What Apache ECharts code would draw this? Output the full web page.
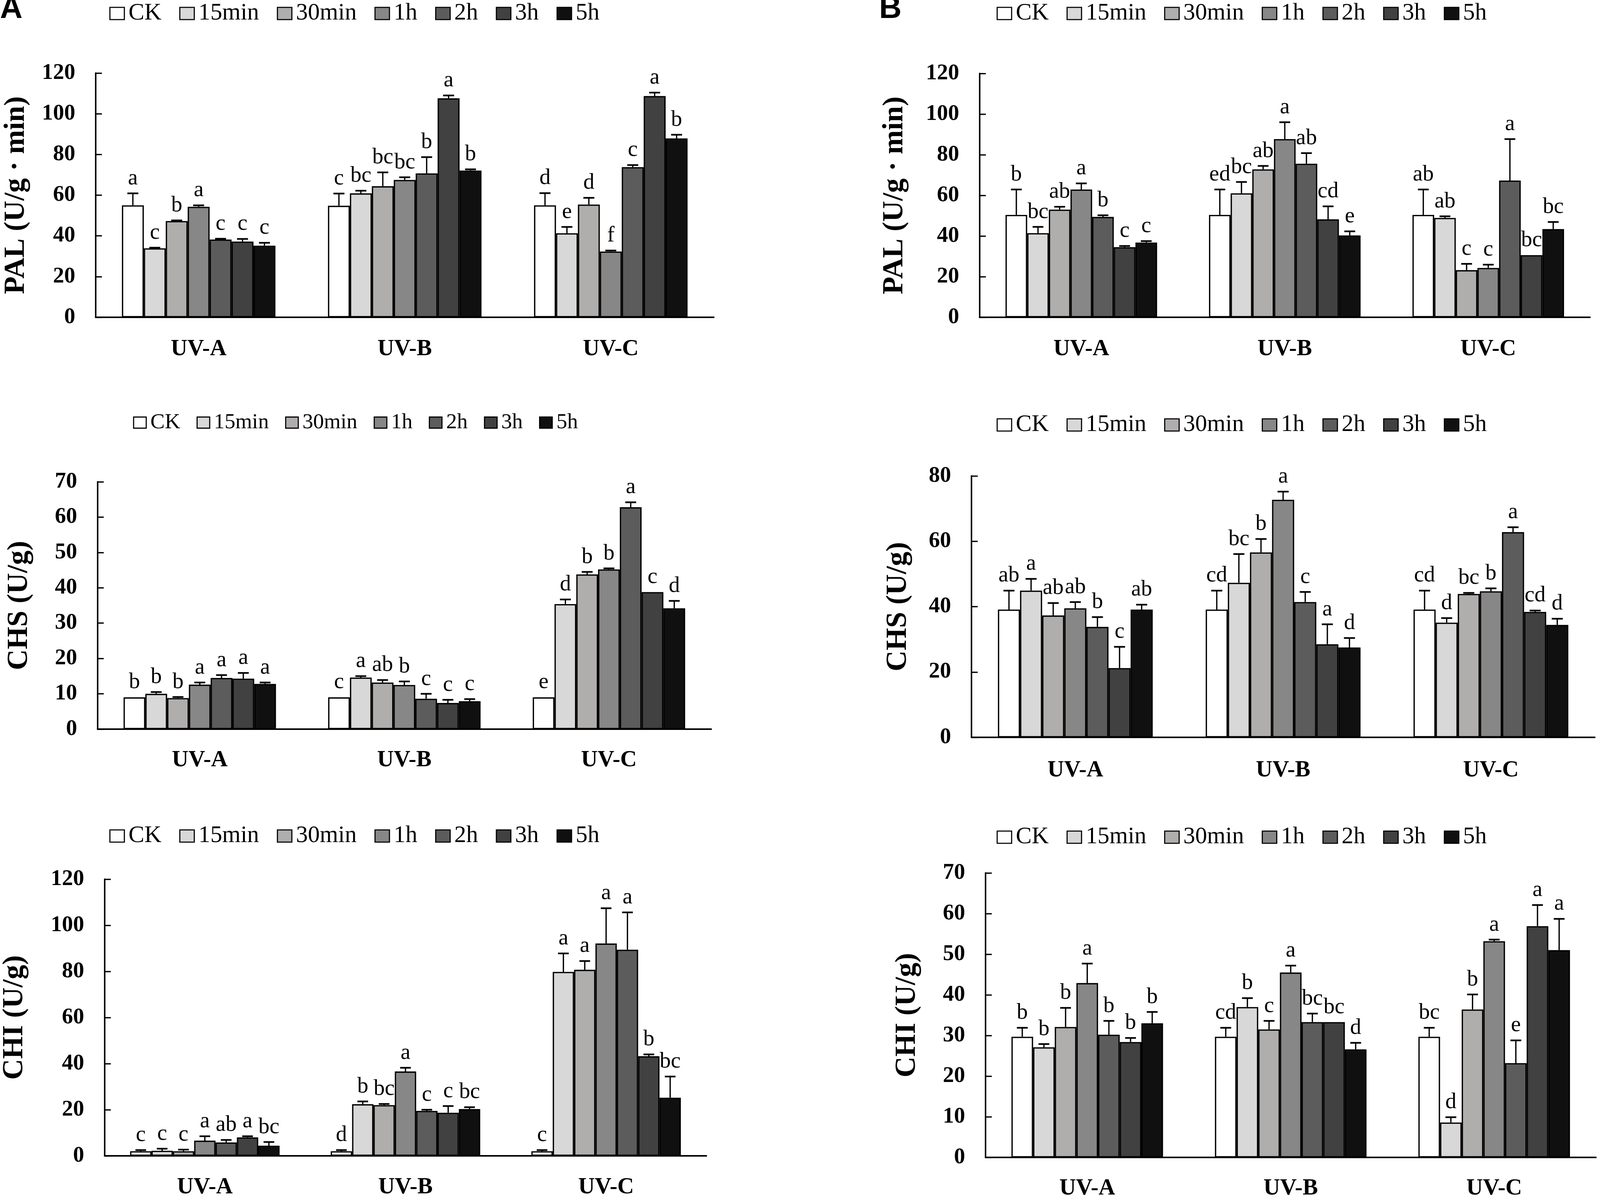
<!DOCTYPE html>
<html>
<head>
    <meta charset="utf-8" />
    <title>PAL, CHS and CHI after UV treatment</title>
    <script src="https://cdn.jsdelivr.net/npm/echarts@6/dist/echarts.min.js"></script>
    <style>
        html, body { margin: 0; padding: 0; background: #fff; overflow: hidden; }
        #main { width: 100vw; height: 100vh; }
    </style>
</head>
<body>
    <div id="main"></div>
    <script type="text/javascript">
        // categories and treatment times
        var uvTypes = ['UV-A', 'UV-B', 'UV-C'];
        var times = ['CK', '15min', '30min', '1h', '2h', '3h', '5h'];
        var greys = ['#ffffff', '#d8d8d8', '#b0adad', '#878787', '#5c5c5c', '#414141', '#101010'];

        // rows follow `times`, columns follow `uvTypes`
        // A - PAL
        var palA = [[55.0, 54.8, 55.0], [33.9, 60.9, 41.3], [47.3, 64.4, 55.4], [54.3, 67.5, 32.3],
                    [38.2, 70.7, 73.8], [37.2, 107.6, 108.7], [35.2, 72.1, 87.9]];
        var palAErr = [[5.9, 6.0, 6.0], [0.3, 1.3, 3.1], [0.3, 6.8, 3.3], [0.7, 1.3, 0.5],
                       [0.4, 8.0, 1.0], [1.3, 1.4, 1.7], [1.4, 0.6, 1.8]];
        var palALetters = [['a', 'c', 'd'], ['c', 'bc', 'e'], ['b', 'bc', 'd'], ['a', 'bc', 'f'],
                           ['c', 'b', 'c'], ['c', 'a', 'a'], ['c', 'b', 'b']];
        // B - PAL
        var palB = [[50.4, 50.4, 50.4], [41.4, 61.0, 48.9], [53.0, 72.8, 23.2], [62.9, 87.7, 24.3],
                    [49.4, 75.6, 67.3], [34.5, 48.2, 30.6], [36.8, 40.3, 43.4]];
        var palBErr = [[12.5, 12.5, 12.5], [3.1, 5.6, 0.8], [1.4, 1.7, 3.1], [3.0, 8.3, 1.6],
                       [0.8, 5.2, 20.4], [0.6, 6.4, 0], [0.7, 2.0, 3.5]];
        var palBLetters = [['b', 'ed', 'ab'], ['bc', 'bc', 'ab'], ['ab', 'ab', 'c'], ['a', 'a', 'c'],
                           ['b', 'ab', 'a'], ['c', 'cd', 'bc'], ['c', 'e', 'bc']];
        // A - CHS
        var chsA = [[9.0, 9.0, 9.0], [10.0, 14.6, 35.4], [8.8, 13.2, 43.8], [12.6, 12.5, 45.2],
                    [14.5, 8.6, 62.8], [14.3, 7.4, 38.8], [12.8, 7.9, 34.2]];
        var chsAErr = [[0.1, 0.1, 0.1], [0.5, 0.4, 1.3], [0.3, 0.7, 0.7], [0.6, 1.0, 0.3],
                       [0.8, 1.4, 1.4], [1.6, 0.9, 0], [0.4, 0.6, 2.1]];
        var chsALetters = [['b', 'c', 'e'], ['b', 'a', 'd'], ['b', 'ab', 'b'], ['a', 'b', 'b'],
                           ['a', 'c', 'a'], ['a', 'c', 'c'], ['a', 'c', 'd']];
        // B - CHS
        var chsB = [[39.1, 39.1, 39.1], [44.9, 47.3, 35.1], [37.3, 56.6, 43.9], [39.5, 72.7, 44.7],
                    [33.8, 41.4, 62.8], [21.2, 28.5, 38.4], [39.1, 27.5, 34.4]];
        var chsBErr = [[5.8, 5.8, 5.8], [3.6, 8.8, 1.4], [3.8, 4.1, 0.3], [1.9, 2.5, 0.9],
                       [3.0, 3.1, 1.5], [6.5, 6.1, 0.4], [1.5, 2.9, 1.9]];
        var chsBLetters = [['ab', 'cd', 'cd'], ['a', 'bc', 'd'], ['ab', 'b', 'bc'], ['ab', 'a', 'b'],
                           ['b', 'c', 'a'], ['c', 'a', 'cd'], ['ab', 'd', 'd']];
        // A - CHI
        var chiA = [[2.0, 2.0, 2.0], [2.2, 22.4, 79.8], [2.0, 22.0, 80.7], [6.6, 36.6, 92.1],
                    [5.8, 19.5, 89.4], [8.0, 18.7, 43.2], [4.4, 20.3, 25.2]];
        var chiAErr = [[0.5, 0.5, 0.5], [0.9, 1.2, 8.0], [0.7, 0.5, 3.8], [1.9, 1.6, 15.3],
                       [1.1, 0.5, 16.2], [0.5, 2.9, 0.8], [1.6, 0.8, 9.2]];
        var chiALetters = [['c', 'd', 'c'], ['c', 'b', 'a'], ['c', 'bc', 'a'], ['a', 'a', 'a'],
                           ['ab', 'c', 'a'], ['a', 'c', 'b'], ['bc', 'bc', 'bc']];
        // B - CHI
        var chiB = [[29.7, 29.7, 29.7], [27.1, 37.0, 8.6], [32.1, 31.5, 36.4], [42.9, 45.5, 53.2],
                    [30.2, 33.3, 23.2], [28.4, 33.3, 56.9], [33.0, 26.6, 51.0]];
        var chiBErr = [[2.2, 2.2, 2.2], [0.8, 2.2, 1.3], [4.7, 2.1, 3.7], [4.8, 1.7, 0.4],
                       [3.4, 2.1, 5.6], [1.0, 0, 5.2], [2.8, 1.6, 7.7]];
        var chiBLetters = [['b', 'cd', 'bc'], ['b', 'b', 'd'], ['b', 'c', 'b'], ['a', 'a', 'a'],
                           ['b', 'bc', 'e'], ['b', 'bc', 'a'], ['b', 'd', 'a']];

        var SERIF = '"Liberation Serif", "Times New Roman", serif';
        var GAP = 0.255;   // barCategoryGap as a fraction

        // layout is written for a 4317 x 3071 page, scaled to the real viewport
        var sx = window.innerWidth / 4317, sy = window.innerHeight / 3071, sz = Math.min(sx, sy);
        function X(v) { return v * sx; }
        function Y(v) { return v * sy; }
        function S(v) { return v * sz; }

        // panel layout: axis left / right / top / zero line; legend [left, top, font, w, h, gap]
        var panels = [
            { mean: palA, err: palAErr, letters: palALetters, name: 'PAL (U/g · min)', max: 120, step: 20,
              box: [258, 1926, 187, 812], legend: [295, 4, 64, 39, 33, 48], nameGap: 175, labelMargin: 52 },
            { mean: palB, err: palBErr, letters: palBLetters, name: 'PAL (U/g · min)', max: 120, step: 20,
              box: [2643, 4290, 188, 812], legend: [2689, 4, 64, 39, 33, 48], nameGap: 190, labelMargin: 52 },
            { mean: chsA, err: chsAErr, letters: chsALetters, name: 'CHS (U/g)', max: 70, step: 10,
              box: [263, 1919, 1233, 1866], legend: [359, 1054, 58, 34, 30, 44], nameGap: 171, labelMargin: 50 },
            { mean: chsB, err: chsBErr, letters: chsBLetters, name: 'CHS (U/g)', max: 80, step: 20,
              box: [2621, 4303, 1218, 1887], legend: [2689, 1057, 64, 39, 33, 48], nameGap: 158, labelMargin: 55 },
            { mean: chiA, err: chiAErr, letters: chiALetters, name: 'CHI (U/g)', max: 120, step: 20,
              box: [281, 1906, 2250, 2958], legend: [295, 2109, 64, 39, 33, 48], nameGap: 203, labelMargin: 51 },
            { mean: chiB, err: chiBErr, letters: chiBLetters, name: 'CHI (U/g)', max: 70, step: 10,
              box: [2659, 4306, 2234, 2963], legend: [2689, 2112, 64, 39, 33, 48], nameGap: 172, labelMargin: 50 }
        ];

        var grids = [], xAxes = [], yAxes = [], legends = [], series = [];

        panels.forEach(function (p, k) {
            var b = p.box;
            grids.push({ left: X(b[0]), top: Y(b[2]), width: X(b[1] - b[0]), height: Y(b[3] - b[2]) });
            xAxes.push({
                type: 'category', gridIndex: k, data: uvTypes,
                axisLine: { lineStyle: { color: '#000', width: S(4) } },
                axisTick: { inside: true, length: S(17), lineStyle: { color: '#000', width: S(3.5) } },
                axisLabel: { color: '#000', fontFamily: SERIF, fontWeight: 'bold', fontSize: S(62),
                             lineHeight: S(62), margin: Y(p.labelMargin) }
            });
            yAxes.push({
                type: 'value', gridIndex: k, min: 0, max: p.max, interval: p.step,
                name: p.name, nameLocation: 'middle', nameGap: X(p.nameGap),
                nameTextStyle: { color: '#000', fontFamily: SERIF, fontWeight: 'bold', fontSize: S(78) },
                splitLine: { show: false },
                axisLine: { show: true, lineStyle: { color: '#000', width: S(4) } },
                axisTick: { show: true, inside: true, length: S(17), lineStyle: { color: '#000', width: S(3.5) } },
                axisLabel: { color: '#000', fontFamily: SERIF, fontWeight: 'bold', fontSize: S(60), margin: X(55) }
            });
            var lg = p.legend;
            legends.push({
                data: times, left: X(lg[0]), top: Y(lg[1]), padding: 0, icon: 'rect',
                itemWidth: S(lg[3]), itemHeight: S(lg[4]), itemGap: X(lg[5]), selectedMode: false,
                itemStyle: { borderColor: '#000', borderWidth: S(3) },
                textStyle: { color: '#000', fontFamily: SERIF, fontSize: S(lg[2]), lineHeight: S(lg[2]),
                             padding: [0, 0, 0, S(6)] }
            });

            // one bar series per treatment time
            times.forEach(function (t, s) {
                series.push({
                    name: t, type: 'bar', xAxisIndex: k, yAxisIndex: k,
                    data: p.mean[s], barGap: '0%', barCategoryGap: (GAP * 100) + '%',
                    itemStyle: { color: greys[s], borderColor: '#000', borderWidth: S(3.5) }
                });
            });

            // error bars + significance letters
            var errData = [];
            times.forEach(function (t, s) {
                uvTypes.forEach(function (u, c) {
                    errData.push([c, s, p.mean[s][c], p.err[s][c]]);
                });
            });
            series.push({
                type: 'custom', xAxisIndex: k, yAxisIndex: k, z: 5, clip: false,
                encode: { x: 0, y: 2 },
                data: errData,
                renderItem: function (params, api) {
                    var c = api.value(0), s = api.value(1);
                    var mean = api.value(2), err = api.value(3);
                    var catW = api.size([1, 0])[0];
                    var barW = catW * (1 - GAP) / 7;
                    var x = api.coord([c, 0])[0] + (s - 3) * barW;
                    var yMean = api.coord([c, mean])[1];
                    var yTop = api.coord([c, mean + err])[1];
                    var kids = [];
                    if (err > 0.2) {
                        kids.push({ type: 'line', shape: { x1: x, y1: yMean, x2: x, y2: yTop },
                                    style: { stroke: '#000', lineWidth: S(3.5) } });
                        kids.push({ type: 'line', shape: { x1: x - barW / 4, y1: yTop, x2: x + barW / 4, y2: yTop },
                                    style: { stroke: '#000', lineWidth: S(4.5) } });
                    }
                    kids.push({ type: 'text', x: x, y: yTop - S(10),
                                style: { text: p.letters[s][c], fill: '#000', fontFamily: SERIF, fontSize: S(60),
                                         align: 'center', verticalAlign: 'bottom' } });
                    return { type: 'group', children: kids };
                }
            });
        });

        var myChart = echarts.init(document.getElementById('main'));
        myChart.setOption({
            animation: false,
            backgroundColor: '#fff',
            grid: grids,
            xAxis: xAxes,
            yAxis: yAxes,
            legend: legends,
            series: series,
            graphic: [
                { type: 'text', left: 0, top: Y(-16),
                  style: { text: 'A', fill: '#000', fontFamily: '"Liberation Sans", Arial, sans-serif',
                           fontWeight: 'bold', fontSize: S(84) } },
                { type: 'text', left: X(2372), top: Y(-16),
                  style: { text: 'B', fill: '#000', fontFamily: '"Liberation Sans", Arial, sans-serif',
                           fontWeight: 'bold', fontSize: S(84) } }
            ]
        });
    </script>
</body>
</html>
